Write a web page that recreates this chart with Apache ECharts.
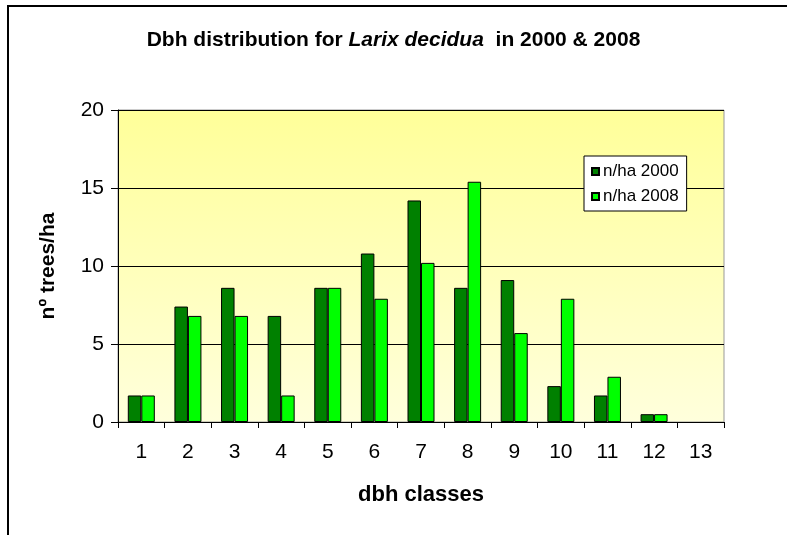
<!DOCTYPE html>
<html>
<head>
<meta charset="utf-8">
<script src="https://cdn.jsdelivr.net/npm/echarts@6/dist/echarts.min.js"></script>
<style>
  html, body { margin: 0; padding: 0; background: #fff; }
  #chart { width: 787px; height: 535px; }
</style>
</head>
<body>
<div id="chart"></div>
<script>
// dbh classes and trees per ha
const classes = ['1', '2', '3', '4', '5', '6', '7', '8', '9', '10', '11', '12', '13'];
const nha2000 = [1.7, 7.4, 8.6, 6.8, 8.6, 10.8, 14.2, 8.6, 9.1, 2.3, 1.7, 0.5, 0];
const nha2008 = [1.7, 6.8, 6.8, 1.7, 8.6, 7.9, 10.2, 15.4, 5.7, 7.9, 2.9, 0.5, 0];
const yTicks = [0, 5, 10, 15, 20];

const font = 'Arial, "Liberation Sans", sans-serif';

// a bar of height 0 is not drawn in the original
function barData(values) {
    return values.map(v => v === 0 ? '-' : v);
}

const myChart = echarts.init(document.getElementById('chart'));

const option = {
    backgroundColor: '#fff',
    animation: false,
    textStyle: { fontFamily: font },
    title: {
        text: '{a|Dbh distribution for }{b|Larix decidua}{a|  in 2000 & 2008}',
        left: 'center',
        top: 25,
        textStyle: {
            rich: {
                a: { fontFamily: font, fontSize: 21, fontWeight: 'bold', color: '#000' },
                b: { fontFamily: font, fontSize: 21, fontWeight: 'bold', fontStyle: 'italic', color: '#000' }
            }
        }
    },
    graphic: [{
        type: 'rect',
        shape: { x: 8, y: 6, width: 820, height: 600 },
        style: { fill: 'none', stroke: '#000', lineWidth: 2 },
        silent: true
    }],
    legend: {
        orient: 'vertical',
        left: 584,
        top: 156,
        padding: [7, 8, 6, 7],
        itemGap: 8,
        itemWidth: 7,
        itemHeight: 7,
        icon: 'rect',
        backgroundColor: '#fff',
        borderColor: '#000',
        borderWidth: 1,
        textStyle: { fontFamily: font, fontSize: 17, color: '#000', padding: [0, 0, 0, -1] }
    },
    grid: {
        left: 118,
        right: 63,
        top: 110,
        bottom: 113,
        show: true,
        borderColor: '#999',
        borderWidth: 1,
        backgroundColor: new echarts.graphic.LinearGradient(0, 0, 0, 1, [
            { offset: 0, color: '#ffff99' },
            { offset: 1, color: '#ffffdc' }
        ])
    },
    xAxis: {
        type: 'category',
        data: classes,
        name: 'dbh classes',
        nameLocation: 'middle',
        nameGap: 62,
        nameTextStyle: { fontFamily: font, fontSize: 22, fontWeight: 'bold', color: '#000' },
        axisLine: { lineStyle: { color: '#000', width: 1 } },
        axisTick: { show: true, length: 6, lineStyle: { color: '#000' } },
        axisLabel: { fontFamily: font, fontSize: 21, color: '#000', margin: 20 },
        splitLine: { show: false }
    },
    yAxis: {
        type: 'value',
        min: yTicks[0],
        max: yTicks[yTicks.length - 1],
        interval: 5,
        name: 'nº trees/ha',
        nameLocation: 'middle',
        nameGap: 59,
        nameTextStyle: { fontFamily: font, fontSize: 21, fontWeight: 'bold', color: '#000' },
        axisLine: { show: true, lineStyle: { color: '#000', width: 1 } },
        axisTick: { show: true, length: 7, lineStyle: { color: '#000' } },
        axisLabel: { fontFamily: font, fontSize: 21, color: '#000', margin: 14 },
        splitLine: { show: true, lineStyle: { color: '#000', width: 1 } }
    },
    series: [{
        name: 'n/ha 2000',
        type: 'bar',
        data: barData(nha2000),
        barWidth: 13.5,
        barGap: '0%',
        itemStyle: { color: '#008000', borderColor: '#000', borderWidth: 1 }
    }, {
        name: 'n/ha 2008',
        type: 'bar',
        data: barData(nha2008),
        barWidth: 13.5,
        barGap: '0%',
        itemStyle: { color: '#00ff00', borderColor: '#000', borderWidth: 1 }
    }]
};

myChart.setOption(option);
</script>
</body>
</html>
